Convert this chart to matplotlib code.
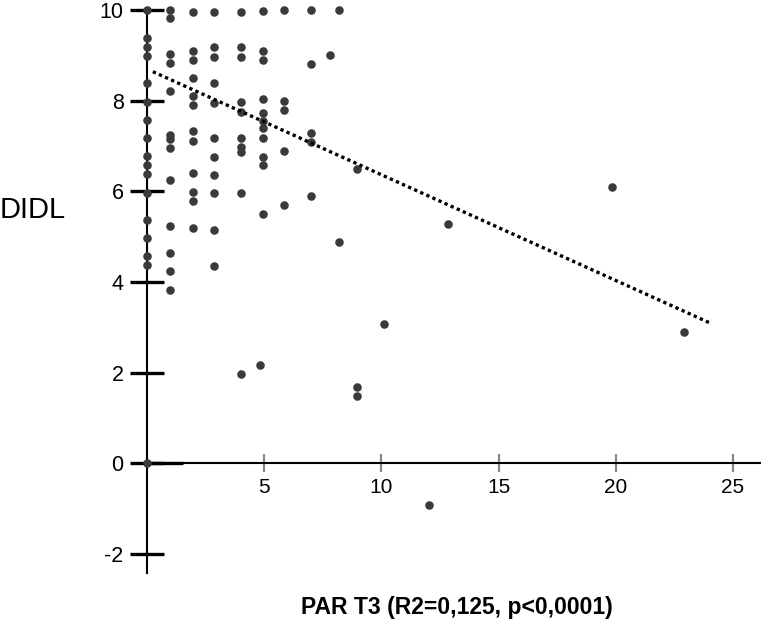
import numpy as np
import matplotlib
matplotlib.use("Agg")
import matplotlib.pyplot as plt

plt.rcParams['font.family'] = ['Liberation Sans', 'DejaVu Sans']
plt.rcParams['axes.unicode_minus'] = False

# PAR T3 (x) and DIDL (y)
par_t3 = ([0.0] * 17 + [0.98] * 13 + [1.95] * 12 + [2.85] * 11 + [4.01] * 10
          + [4.96] * 11 + [4.8] + [5.86] * 5 + [7.01] * 5
          + [7.79, 8.19, 8.19, 8.96, 8.96, 8.96, 10.12, 12.04, 12.83, 19.82, 22.91])
didl = [10.0, 9.38, 9.19, 8.98, 8.39, 7.97, 7.58, 7.18, 6.78, 6.58, 6.38, 5.97, 5.36, 4.96, 4.57, 4.37, 0.0,
        10.0, 9.82, 9.02, 8.82, 8.22, 7.24, 7.15, 6.96, 6.24, 5.24, 4.63, 4.24, 3.83,
        9.95, 9.10, 8.90, 8.51, 8.11, 7.91, 7.33, 7.11, 6.40, 5.99, 5.79, 5.18,
        9.95, 9.18, 8.97, 8.38, 7.94, 7.17, 6.76, 6.36, 5.97, 5.14, 4.35,
        9.95, 9.18, 8.97, 7.96, 7.76, 7.17, 6.98, 6.87, 5.97, 1.96,
        9.98, 9.09, 8.90, 8.04, 7.72, 7.55, 7.39, 7.18, 6.76, 6.58, 5.50,
        2.16,
        10.0, 8.00, 7.79, 6.89, 5.70,
        10.0, 8.80, 7.29, 7.09, 5.89,
        9.01, 10.0, 4.89, 6.49, 1.68, 1.48, 3.08, -0.93, 5.29, 6.09, 2.89]

# regression line ends as drawn
fit_x = [0.25, 24.0]
fit_y = [8.64, 3.10]

x_ticks = [5, 10, 15, 20, 25]
y_ticks = [10, 8, 6, 4, 2, 0, -2]

fig = plt.figure(figsize=(7.61, 6.25), dpi=100)
ax = fig.add_axes([147 / 761, 52 / 625, 614 / 761, 563 / 625])
ax.set_xlim(0, 614 / 23.44)
ax.set_ylim(-2.42, 10)

ax.scatter(par_t3, didl, s=38, color='#3a3a3a', zorder=3, clip_on=False, linewidths=0)
ax.plot(fit_x, fit_y, color='black', lw=2.4, linestyle=(0, (1, 1)), dash_capstyle='butt', zorder=4)

# thick piece of the axis right of the origin
ax.plot([0, 1.54], [0, 0], color='black', lw=2.4, solid_capstyle='butt', zorder=2)

for s in ['top', 'right']:
    ax.spines[s].set_visible(False)
ax.spines['bottom'].set_position(('data', 0))
ax.spines['left'].set_linewidth(1.5)
ax.spines['bottom'].set_linewidth(1.5)

ax.set_xticks(x_ticks)
ax.set_xticklabels([str(t) for t in x_ticks])
ax.set_yticks(y_ticks)
ax.set_yticklabels([str(t) for t in y_ticks])
ax.tick_params(axis='x', direction='inout', length=13.5, width=1.6, color='#888888',
               labelsize=15, pad=4)
ax.tick_params(axis='y', direction='inout', length=24.5, width=2.4, color='black',
               labelsize=15.5, pad=4.5)

ax.set_ylabel('DIDL', rotation=0, fontsize=21, ha='center', va='center')
ax.yaxis.set_label_coords(-0.186, 0.645)
ax.set_xlabel('PAR T3 (R2=0,125, p<0,0001)', fontsize=16.5, fontweight='bold', va='center')
ax.xaxis.set_label_coords(0.505, -0.062)

fig.savefig('out.png', dpi=100)
